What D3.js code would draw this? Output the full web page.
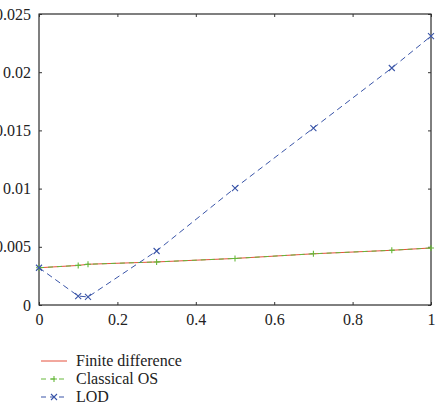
<!DOCTYPE html>
<html><head><meta charset="utf-8">
<script src="https://cdn.jsdelivr.net/npm/d3@7"></script>
<style>body{margin:0;background:#fff}svg{display:block}</style>
</head><body><svg id="c" width="437" height="406"></svg>
<script>
const xs = [0, 0.1, 0.125, 0.3, 0.5, 0.7, 0.9, 1];
const finiteDiff = [0.0032, 0.0034, 0.0035, 0.0037, 0.0040, 0.0044, 0.0047, 0.0049];
const classicalOS = [0.0032, 0.0034, 0.0035, 0.0037, 0.0040, 0.0044, 0.0047, 0.0049];
const lod = [0.0032, 0.00077, 0.00069, 0.00464, 0.01005, 0.0152, 0.02036, 0.0231];
const xTicks = [0, 0.2, 0.4, 0.6, 0.8, 1];
const yTicks = [0, 0.005, 0.01, 0.015, 0.02, 0.025];
const xTickLabels = ["0", "0.2", "0.4", "0.6", "0.8", "1"];
const yTickLabels = ["0", "0.005", "0.01", "0.015", "0.02", "0.025"];
const seriesNames = ["Finite difference", "Classical OS", "LOD"];
const colors = ["#e5503c", "#66b83a", "#3a55a8"];

const svg = d3.select("#c");
const L = 39, R = 431, T = 14, B = 305;
const x = d3.scaleLinear().domain([0, 1]).range([L, R]);
const y = d3.scaleLinear().domain([0, 0.025]).range([B, T]);
const FONT = '"Liberation Serif", "Times New Roman", serif';

svg.append("rect").attr("x", L).attr("y", T).attr("width", R - L).attr("height", B - T)
  .attr("fill", "none").attr("stroke", "#000").attr("stroke-width", 1);

const tl = 3;
const axB = d3.axisBottom(x).tickValues(xTicks).tickSize(-tl).tickPadding(9).tickFormat((d, i) => xTickLabels[i]);
const axL = d3.axisLeft(y).tickValues(yTicks).tickSize(-tl).tickPadding(8).tickFormat((d, i) => yTickLabels[i]);
const axT = d3.axisTop(x).tickValues(xTicks).tickSize(-tl).tickFormat("");
const axR = d3.axisRight(y).tickValues(yTicks).tickSize(-tl).tickFormat("");
function style(g) {
  g.attr("font-family", null).attr("font-size", null);
  g.select(".domain").remove();
  g.selectAll("line").attr("stroke", "#333");
  g.selectAll("text").style("font-family", FONT).style("font-size", "16px").attr("fill", "#222");
}
svg.append("g").attr("transform", `translate(0,${B})`).call(axB).call(style);
svg.append("g").attr("transform", `translate(${L},0)`).call(axL).call(style);
svg.append("g").attr("transform", `translate(0,${T})`).call(axT).call(style);
svg.append("g").attr("transform", `translate(${R},0)`).call(axR).call(style);

const line = d3.line().x((d, i) => x(xs[i])).y(d => y(d));
const series = [finiteDiff, classicalOS, lod];
const dashes = [null, "5,4", "6,4"];
const markers = [null, "plus", "cross"];

function drawMarker(g, type, cx, cy, col) {
  const s = 3;
  if (type === "plus") {
    g.append("path").attr("d", `M${cx - s},${cy}H${cx + s}M${cx},${cy - s}V${cy + s}`).attr("stroke", col).attr("stroke-width", 1.1);
  } else if (type === "cross") {
    g.append("path").attr("d", `M${cx - s},${cy - s}L${cx + s},${cy + s}M${cx - s},${cy + s}L${cx + s},${cy - s}`).attr("stroke", col).attr("stroke-width", 1.1);
  }
}

[0, 1, 2].forEach(k => {
  const g = svg.append("g");
  g.append("path").attr("d", line(series[k])).attr("fill", "none").attr("stroke", colors[k])
    .attr("stroke-width", 1).attr("stroke-dasharray", dashes[k]);
  if (markers[k]) series[k].forEach((v, i) => drawMarker(g, markers[k], x(xs[i]), y(v), colors[k]));
});

const lg = svg.append("g");
seriesNames.forEach((name, k) => {
  const yy = 361 + k * 18;
  lg.append("line").attr("x1", 41).attr("x2", 67).attr("y1", yy).attr("y2", yy)
    .attr("stroke", colors[k]).attr("stroke-width", 1).attr("stroke-dasharray", dashes[k] ? "5,4" : null);
  if (markers[k]) drawMarker(lg, markers[k], 54, yy, colors[k]);
  lg.append("text").attr("x", 76).attr("y", yy + 5)
    .style("font-family", FONT).style("font-size", "16px")
    .attr("fill", "#222").text(name);
});
</script></body></html>
